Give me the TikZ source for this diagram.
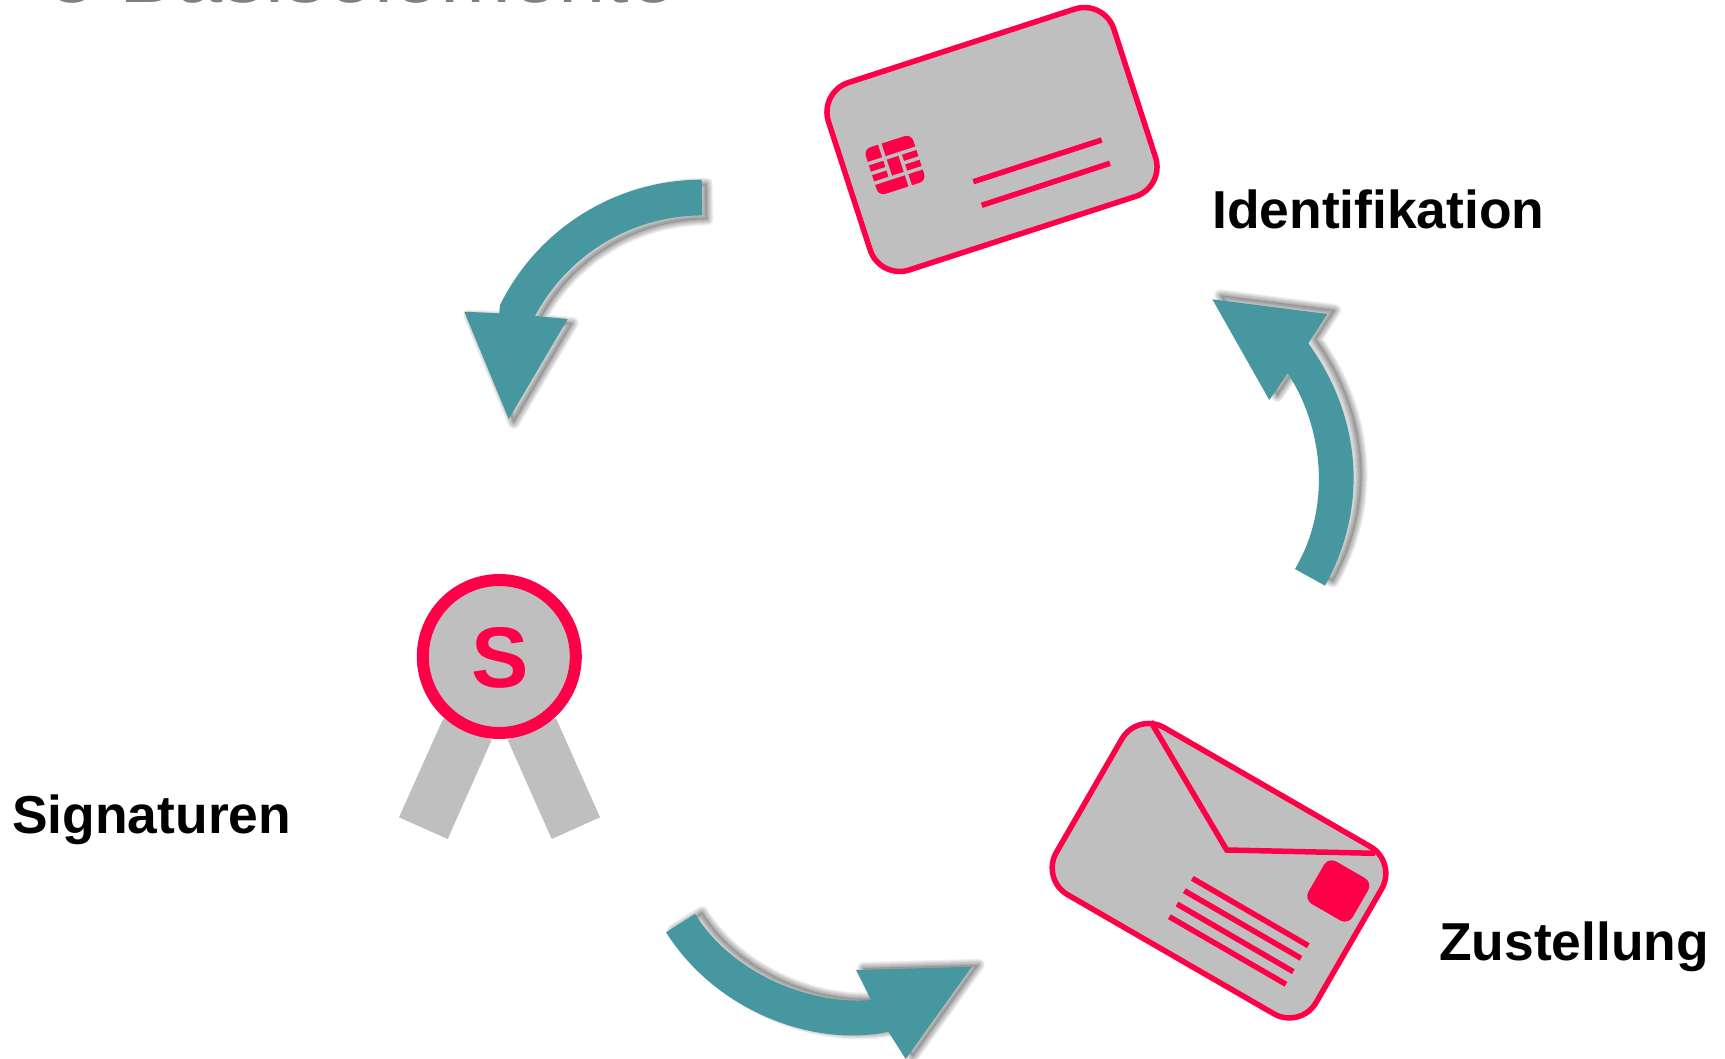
\documentclass[tikz,border=0pt]{standalone}
\usepackage{fontspec}
\setmainfont{Liberation Sans}
\definecolor{tealarrow}{HTML}{46979F}
\definecolor{pinkline}{HTML}{FF0048}
\definecolor{cardgray}{HTML}{BFBFBF}
\definecolor{titlegray}{HTML}{808080}
\newcommand{\softarrow}[2]{%
  \foreach \wd in {12,10,8,6,4,2}{%
    \path[draw=black,line width=\wd pt,opacity=0.06,line join=round,shift={#1}] #2;}%
  \fill[black,opacity=0.15,shift={#1}] #2;%
  \fill[tealarrow] #2;}
\tikzset{
  x=1pt,y=-1pt,
  outline/.style={draw=pinkline,fill=cardgray,line width=5.5pt},
  pinkrule/.style={draw=pinkline,line width=5.5pt},
  chipgap/.style={draw=cardgray,line width=3.5pt},
  label/.style={font=\fontsize{53.4}{55}\selectfont\bfseries,text=black,inner sep=0pt,anchor=base west},
}
\begin{document}
\begin{tikzpicture}
\useasboundingbox (0,0) rectangle (1725,1059);
% title
\node[font=\fontsize{85}{85}\selectfont,text=titlegray,inner sep=0pt,anchor=base west] (title) at (48,3) {3 Basiselemente};
% arrows
\softarrow{(5,4)}{(701.7,179.7) arc[start angle=90,end angle=153.7,radius=225pt] -- (499.3,313.3) -- (464.3,311.7) -- (508.7,419) -- (567.7,319) -- (535,316) arc[start angle=152,end angle=90,radius=189.5pt] -- cycle}
\softarrow{(8,-4)}{(1325,585.7) .. controls (1370,504.7) and (1360,415) .. (1308.3,343.3) -- (1327.3,314) -- (1212.3,299.3) -- (1269.3,400) -- (1287.7,373.3) .. controls (1322,425) and (1333,505) .. (1295,569) -- cycle}
\softarrow{(7,-2)}{(666,932.3) .. controls (715.5,1010.6) and (813,1048) .. (888.3,1031.7) -- (905.7,1059) -- (971.7,966.7) -- (856,970) -- (871,1000) .. controls (811,1005) and (733.5,975) .. (695,914) -- cycle}
% card
\begin{scope}[shift={(992,139.5)},rotate=18]
  \draw[outline,rounded corners=31pt] (-150,-98.5) rectangle (150,98.5);
\end{scope}
\draw[pinkrule] (973.3,181.7) -- (1101.7,140);
\draw[pinkrule] (981.7,205.3) -- (1110,163.3);
\begin{scope}[shift={(895,165)},rotate=18]
  \fill[pinkline,rounded corners=7pt] (-25,-24.5) rectangle (25,24.5);
  \draw[chipgap] (-26,-9.5) -- (26,-9.5);
  \draw[chipgap] (-26,11) -- (26,11);
  \draw[chipgap] (-8,-26) -- (-8,11);
  \draw[chipgap] (8,-9.5) -- (8,26);
  \draw[chipgap] (-26,0.75) -- (-8,0.75);
  \draw[chipgap] (8,0.75) -- (26,0.75);
\end{scope}
% badge
\fill[cardgray] (399,817.3) -- (447.7,839) -- (491.7,740) -- (443.3,718.3) -- cycle;
\fill[cardgray] (600,817.3) -- (551.7,839) -- (507.7,740) -- (556,718.3) -- cycle;
\draw[draw=pinkline,fill=cardgray,line width=12pt] (499.3,656.5) circle[radius=76.5pt];
\node[font=\fontsize{86}{88}\selectfont\bfseries,text=pinkline,inner sep=0pt] (seal) at (500,658) {S};
% envelope
\begin{scope}[shift={(1219,870.7)},rotate=-30]
  \draw[outline,rounded corners=31pt] (-150,-96.5) rectangle (150,96.5);
\end{scope}
\draw[pinkrule,line join=miter] (1150.7,721.5) -- (1226.7,850) -- (1375,853.3);
\begin{scope}[shift={(1338.3,891)},rotate=-30]
  \fill[pinkline,rounded corners=9pt] (-25.5,-24.5) rectangle (25.5,24.5);
\end{scope}
\draw[pinkrule] (1192.3,878.3) -- (1308.3,945.7);
\draw[pinkrule] (1184.3,890.7) -- (1301,958.3);
\draw[pinkrule] (1177,904) -- (1293.3,971.7);
\draw[pinkrule] (1169.3,916.7) -- (1286,984.3);
% labels
\node[label] (ident) at (1212,229) {Identifikation};
\node[label] (sign) at (12,833) {Signaturen};
\node[label] (zust) at (1439,960) {Zustellung};
\end{tikzpicture}
\end{document}
